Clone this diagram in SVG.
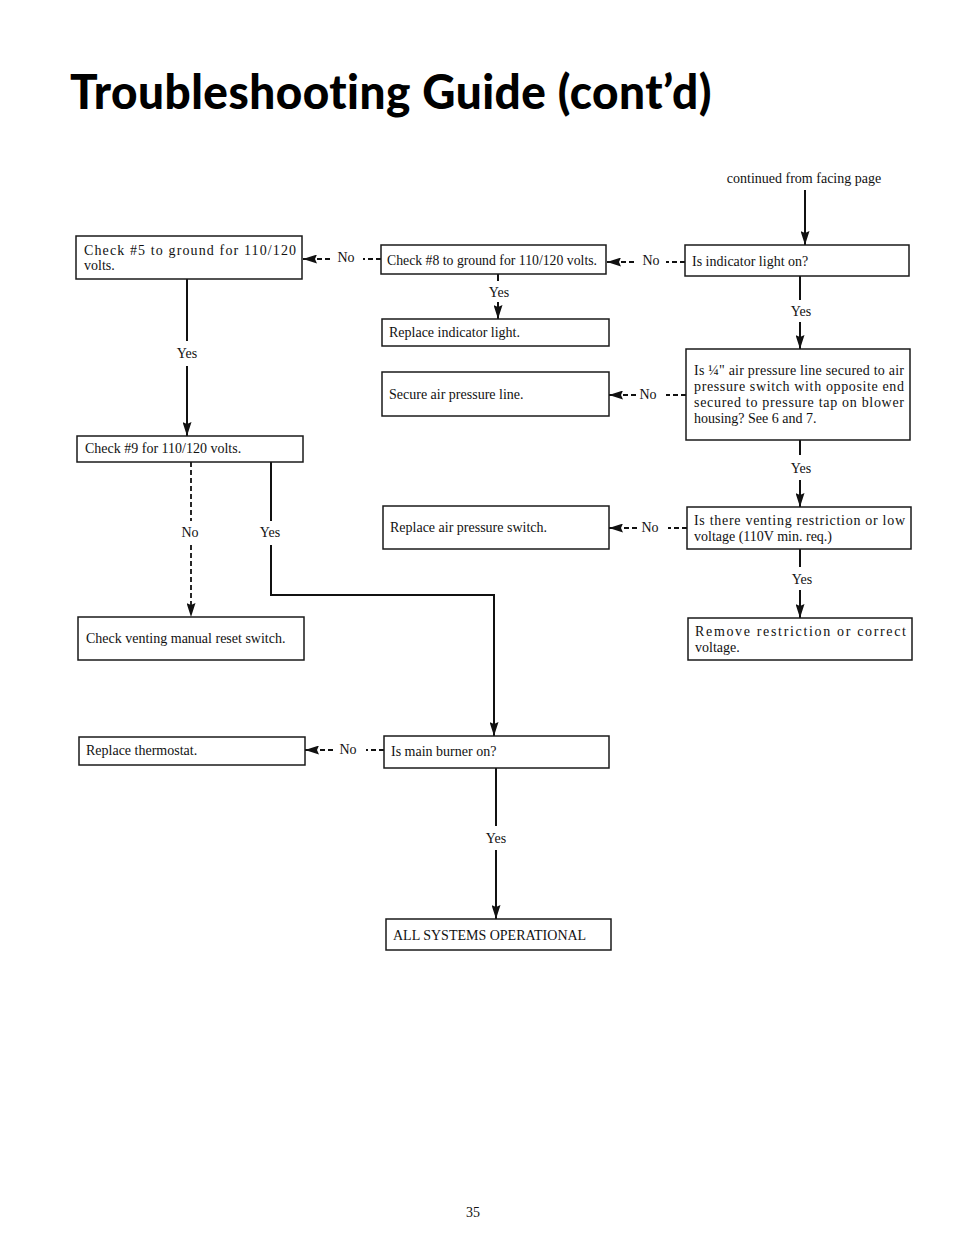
<svg xmlns="http://www.w3.org/2000/svg" width="954" height="1239" viewBox="0 0 954 1239">
<style>
.box{fill:#fff;stroke:#1a1a1a;stroke-width:1.5}
.t{font-family:"Liberation Serif","Times New Roman",serif;font-size:14px;fill:#111}
.lbl{font-family:"Liberation Serif","Times New Roman",serif;font-size:14px;fill:#111;text-anchor:middle}
.ln{stroke:#111;stroke-width:2;fill:none}
.dl{stroke:#111;stroke-width:1.8;fill:none;stroke-dasharray:5,3}
</style>
<defs>
<marker id="ah" viewBox="0 0 14 9" refX="14" refY="4.5" markerWidth="14" markerHeight="9" markerUnits="userSpaceOnUse" orient="auto">
<path d="M0,0 L14,4.5 L0,9 L2,4.5 z" fill="#111"/>
</marker>
</defs>
<rect width="954" height="1239" fill="#fff"/>
<text x="70" y="109" font-family="Lato,'Open Sans',sans-serif" font-weight="900" font-size="47" letter-spacing="0.5" textLength="642" lengthAdjust="spacingAndGlyphs" style="font-variant-ligatures:none" fill="#000">Troubleshooting Guide (cont’d)</text>
<text x="804" y="183" class="lbl" font-size="13">continued from facing page</text>

<g id="connectors">
<line class="ln" x1="805" y1="190" x2="805" y2="245" marker-end="url(#ah)"/>
<line class="dl" x1="685" y1="262" x2="666" y2="262"/>
<text class="lbl" x="651" y="265">No</text>
<line class="dl" x1="634" y1="262" x2="607" y2="262" marker-end="url(#ah)"/>
<line class="dl" x1="381" y1="259" x2="363" y2="259"/>
<text class="lbl" x="346" y="262">No</text>
<line class="dl" x1="330" y1="259" x2="303" y2="259" marker-end="url(#ah)"/>
<line class="ln" x1="498" y1="274" x2="498" y2="281"/>
<text class="lbl" x="499" y="297" font-size="13">Yes</text>
<line class="ln" x1="498" y1="302" x2="498" y2="319" marker-end="url(#ah)"/>
<line class="ln" x1="800" y1="276" x2="800" y2="300"/>
<text class="lbl" x="801" y="316" font-size="13">Yes</text>
<line class="ln" x1="800" y1="322" x2="800" y2="349" marker-end="url(#ah)"/>
<line class="dl" x1="686" y1="395" x2="666" y2="395"/>
<text class="lbl" x="648" y="399">No</text>
<line class="dl" x1="636" y1="395" x2="609" y2="395" marker-end="url(#ah)"/>
<line class="ln" x1="800" y1="440" x2="800" y2="455"/>
<text class="lbl" x="801" y="473" font-size="13">Yes</text>
<line class="ln" x1="800" y1="480" x2="800" y2="507" marker-end="url(#ah)"/>
<line class="dl" x1="687" y1="528" x2="668" y2="528"/>
<text class="lbl" x="650" y="532">No</text>
<line class="dl" x1="637" y1="528" x2="609" y2="528" marker-end="url(#ah)"/>
<line class="ln" x1="800" y1="549" x2="800" y2="567"/>
<text class="lbl" x="802" y="584" font-size="13">Yes</text>
<line class="ln" x1="800" y1="590" x2="800" y2="618" marker-end="url(#ah)"/>
<line class="ln" x1="187" y1="279" x2="187" y2="341"/>
<text class="lbl" x="187" y="358" font-size="13">Yes</text>
<line class="ln" x1="187" y1="366" x2="187" y2="436" marker-end="url(#ah)"/>
<line class="dl" x1="191" y1="462" x2="191" y2="521"/>
<text class="lbl" x="190" y="537">No</text>
<line class="dl" x1="191" y1="545" x2="191" y2="617" marker-end="url(#ah)"/>
<line class="ln" x1="271" y1="462" x2="271" y2="521"/>
<text class="lbl" x="270" y="537" font-size="13">Yes</text>
<polyline class="ln" points="271,545 271,595 494,595 494,736" marker-end="url(#ah)"/>
<line class="dl" x1="384" y1="750" x2="366" y2="750"/>
<text class="lbl" x="348" y="754">No</text>
<line class="dl" x1="333" y1="750" x2="305" y2="750" marker-end="url(#ah)"/>
<line class="ln" x1="496" y1="768" x2="496" y2="826"/>
<text class="lbl" x="496" y="843" font-size="13">Yes</text>
<line class="ln" x1="496" y1="850" x2="496" y2="919" marker-end="url(#ah)"/>
</g>

<g id="n-check5">
<rect class="box" x="76" y="236" width="226" height="43"/>
<text class="t" x="84" y="255" textLength="212" lengthAdjust="spacing">Check #5 to ground for 110/120</text>
<text class="t" x="84" y="270">volts.</text>
</g>
<g id="n-check8">
<rect class="box" x="381" y="245" width="225" height="29"/>
<text class="t" x="387" y="265" textLength="210" lengthAdjust="spacingAndGlyphs">Check #8 to ground for 110/120 volts.</text>
</g>
<g id="n-indicator">
<rect class="box" x="685" y="245" width="224" height="31"/>
<text class="t" x="692" y="266">Is indicator light on?</text>
</g>
<g id="n-replace-indicator">
<rect class="box" x="382" y="319" width="227" height="27"/>
<text class="t" x="389" y="337">Replace indicator light.</text>
</g>
<g id="n-secure">
<rect class="box" x="382" y="372" width="227" height="44"/>
<text class="t" x="389" y="399">Secure air pressure line.</text>
</g>
<g id="n-quarter">
<rect class="box" x="686" y="349" width="224" height="91"/>
<text class="t" x="694" y="375" textLength="210" lengthAdjust="spacing">Is ¼" air pressure line secured to air</text>
<text class="t" x="694" y="391" textLength="210" lengthAdjust="spacing">pressure switch with opposite end</text>
<text class="t" x="694" y="407" textLength="210" lengthAdjust="spacing">secured to pressure tap on blower</text>
<text class="t" x="694" y="423">housing? See 6 and 7.</text>
</g>
<g id="n-check9">
<rect class="box" x="77" y="436" width="226" height="26"/>
<text class="t" x="85" y="453">Check #9 for 110/120 volts.</text>
</g>
<g id="n-replace-switch">
<rect class="box" x="383" y="506" width="226" height="43"/>
<text class="t" x="390" y="532">Replace air pressure switch.</text>
</g>
<g id="n-venting">
<rect class="box" x="687" y="507" width="224" height="42"/>
<text class="t" x="694" y="525" textLength="211" lengthAdjust="spacing">Is there venting restriction or low</text>
<text class="t" x="694" y="541">voltage (110V min. req.)</text>
</g>
<g id="n-venting-reset">
<rect class="box" x="78" y="617" width="226" height="43"/>
<text class="t" x="86" y="643">Check venting manual reset switch.</text>
</g>
<g id="n-remove">
<rect class="box" x="688" y="618" width="224" height="42"/>
<text class="t" x="695" y="636" textLength="211" lengthAdjust="spacing">Remove restriction or correct</text>
<text class="t" x="695" y="652">voltage.</text>
</g>
<g id="n-thermostat">
<rect class="box" x="79" y="737" width="226" height="28"/>
<text class="t" x="86" y="755">Replace thermostat.</text>
</g>
<g id="n-burner">
<rect class="box" x="384" y="736" width="225" height="32"/>
<text class="t" x="391" y="756">Is main burner on?</text>
</g>
<g id="n-all">
<rect class="box" x="386" y="919" width="225" height="31"/>
<text class="t" x="393" y="940">ALL SYSTEMS OPERATIONAL</text>
</g>
<text x="473" y="1217" class="lbl">35</text>
</svg>
